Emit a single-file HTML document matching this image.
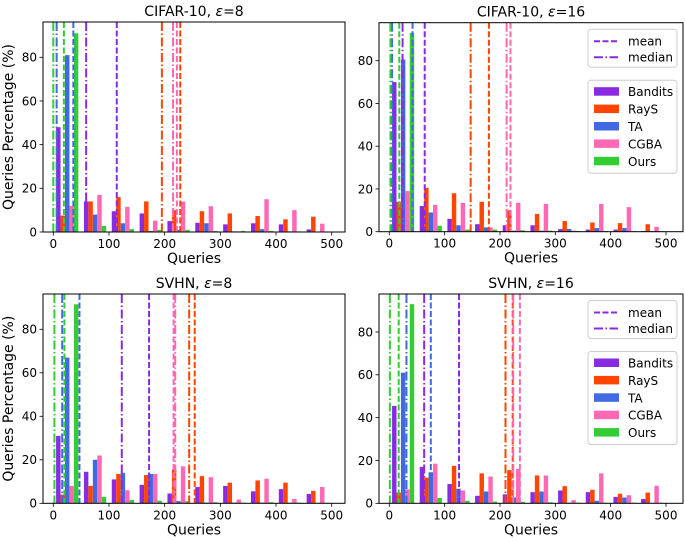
<!DOCTYPE html>
<html><head><meta charset="utf-8">
<style>
html,body{margin:0;padding:0;background:#fff;}
svg{display:block;font-family:"DejaVu Sans","Liberation Sans",sans-serif;}
</style></head>
<body>
<svg id="fig" width="685" height="542" viewBox="0 0 685 542" xmlns="http://www.w3.org/2000/svg"></svg>
<script>
const methods = ["Bandits","RayS","TA","CGBA","Ours"];
const colors = ["#8a2be2","#ff4500","#4169e1","#ff69b4","#32cd32"];
const binStarts = [0,50,100,150,200,250,300,350,400,450];
const xTicks = [0,100,200,300,400,500];
const yTicks = [0,20,40,60,80];

// CIFAR-10 eps=8
const c8Bandits = [48,14,9.5,8.5,5,4.2,3.5,4,3.5,1.2];
const c8RayS = [7.5,14,16,14,10,9.5,8.5,7.3,5.8,7];
const c8TA = [81,8,4,0.5,1,4,0.3,1.3,0.3,0.2];
const c8CGBA = [12,17,11.5,5.2,14,11.8,0.3,15,10,3.8];
const c8Ours = [91,2.8,1.3,1,1,0.5,0.5,0.5,0.3,0.2];
const c8Mean = [114,228,36,222,19];
const c8Median = [59,195,6,215,0];
// CIFAR-10 eps=16
const c16Bandits = [70,12,6,3.5,3,3,1.2,1,1,0.3];
const c16RayS = [14,20.5,18,14,10,8.3,5,4.3,4,3.5];
const c16TA = [80.5,9,3,2,0.5,0.5,1.3,1.7,1.7,0.2];
const c16CGBA = [19,12.5,13.5,2,13.5,13,0.5,13,11.5,2.3];
const c16Ours = [93,2.8,1,1,0.7,0.5,0.3,0.3,0.2,0.2];
const c16Mean = [64,180,42,219,18];
const c16Median = [24,147,5,212,2];
// SVHN eps=8
const s8Bandits = [31,14.5,11,8.5,4.5,7.5,8,5.5,6.5,4.3];
const s8RayS = [4,8,13.5,13,15.5,12.5,9.5,10.5,9.5,5.7];
const s8TA = [67,20,14,13.5,1,0.3,0.3,0.3,0.3,0.2];
const s8CGBA = [8,22,6,13.5,17,12,1.7,11.3,2,7.5];
const s8Ours = [91.5,3,1.5,1.2,1,0.5,0.3,0.5,0.3,0.2];
const s8Mean = [172,254,47,216,20];
const s8Median = [123,244,16,219,2];
// SVHN eps=16
const s16Bandits = [45.5,17,9,3.5,4.2,5.2,6,5.2,3,2];
const s16RayS = [5,12,17.5,14,15.5,13,8,6.3,4.5,5];
const s16TA = [61,14.5,6.8,5.5,2.7,5.5,0.3,1.2,2.7,0.2];
const s16CGBA = [6.5,18.5,6,12.5,16,13,1.5,14,3.8,8.2];
const s16Ours = [93,2.5,1.2,0.8,0.7,0.5,0.3,0.3,0.3,0.3];
const s16Mean = [126,223,75,236,17];
const s16Median = [63,210,31,224,1];

const NS="http://www.w3.org/2000/svg";
const fig=document.getElementById('fig');
function mk(tag,attrs,parent){const e=document.createElementNS(NS,tag);for(const k in attrs)e.setAttribute(k,attrs[k]);(parent||fig).appendChild(e);return e;}

const panels=[
 {key:"c8",title:"CIFAR-10, ",eps:"8",L:43,R:345,T:22,B:232,x0:53.3,x500:331.7,y80:57.3,series:[c8Bandits,c8RayS,c8TA,c8CGBA,c8Ours],mean:c8Mean,median:c8Median,ylabel:true,legend:false},
 {key:"c16",title:"CIFAR-10, ",eps:"16",L:379,R:683,T:22.7,B:231.7,x0:389.3,x500:666,y80:60.7,series:[c16Bandits,c16RayS,c16TA,c16CGBA,c16Ours],mean:c16Mean,median:c16Median,ylabel:false,legend:true},
 {key:"s8",title:"SVHN, ",eps:"8",L:43,R:345,T:294,B:503.3,x0:53.3,x500:331.7,y80:329.3,series:[s8Bandits,s8RayS,s8TA,s8CGBA,s8Ours],mean:s8Mean,median:s8Median,ylabel:true,legend:false},
 {key:"s16",title:"SVHN, ",eps:"16",L:379,R:683,T:294,B:503.3,x0:389.3,x500:666,y80:332,series:[s16Bandits,s16RayS,s16TA,s16CGBA,s16Ours],mean:s16Mean,median:s16Median,ylabel:false,legend:true}
];

panels.forEach(p=>{
  const g=mk('g',{});
  
  
  const xs=v=>p.x0+(p.x500-p.x0)*v/500;
  const ys=v=>p.B-(p.B-p.y80)*v/80;
  const clipId='clip-'+p.key;
  const cp=mk('clipPath',{id:clipId},g);
  mk('rect',{x:p.L,y:p.T,width:p.R-p.L,height:p.B-p.T},cp);
  const plot=mk('g',{'clip-path':'url(#'+clipId+')'},g);
  // bars
  p.series.forEach((vals,m)=>{
    vals.forEach((v,i)=>{
      const xl=xs(binStarts[i]+5+8*m), xr=xs(binStarts[i]+5+8*m+8);
      const r=mk('rect',{x:xl,y:ys(v),width:xr-xl,height:ys(0)-ys(v),fill:colors[m]},plot);
      
      
    });
  });
  // mean / median lines
  p.mean.forEach((v,m)=>{
    const l=mk('line',{x1:xs(v),x2:xs(v),y1:p.T,y2:p.B,stroke:colors[m],'stroke-width':2,'stroke-dasharray':'6,2.5'},plot);
    
    
  });
  p.median.forEach((v,m)=>{
    const l=mk('line',{x1:xs(v),x2:xs(v),y1:p.T,y2:p.B,stroke:colors[m],'stroke-width':2,'stroke-dasharray':'9,2.5,1.5,2.5'},plot);
    
    
  });
  // frame
  const fr=mk('rect',{x:p.L,y:p.T,width:p.R-p.L,height:p.B-p.T,fill:'none',stroke:'#000','stroke-width':1},g);
  
  
  // ticks
  xTicks.forEach(t=>{
    mk('line',{x1:xs(t),x2:xs(t),y1:p.B,y2:p.B+3.5,stroke:'#000','stroke-width':0.8},g);
    const tx=mk('text',{x:xs(t),y:p.B+16,'text-anchor':'middle','font-size':12,fill:'#000'},g);
    tx.textContent=t;
    
    
  });
  yTicks.forEach(t=>{
    mk('line',{x1:p.L-3.5,x2:p.L,y1:ys(t),y2:ys(t),stroke:'#000','stroke-width':0.8},g);
    const tx=mk('text',{x:p.L-6,y:ys(t)+4.3,'text-anchor':'end','font-size':12,fill:'#000'},g);
    tx.textContent=t;
    
    
  });
  // title
  const ti=mk('text',{x:(p.L+p.R)/2,y:p.T-6,'text-anchor':'middle','font-size':14,fill:'#000'},g);
  
  
  ti.appendChild(document.createTextNode(p.title));
  const ep=mk('tspan',{'font-style':'italic'},ti);ep.textContent='ε';
  ti.appendChild(document.createTextNode('='+p.eps));
  // x label
  const xl=mk('text',{x:(p.L+p.R)/2,y:p.B+31,'text-anchor':'middle','font-size':14,fill:'#000'},g);
  xl.textContent='Queries';
  
  
  if(p.ylabel){
    const cy=(p.T+p.B)/2;
    const yl=mk('text',{x:13,y:cy,'text-anchor':'middle','font-size':14,fill:'#000',transform:'rotate(-90 13 '+cy+')'},g);
    yl.textContent='Queries Percentage (%)';
    
    
  }
  if(p.legend){
    const lx=p.R-95, ly=p.T+6.5;
    const lg1=mk('g',{},g);
    
    
    mk('rect',{x:lx,y:ly,width:89,height:38,rx:3,fill:'#fff','fill-opacity':0.85,stroke:'#ccc','stroke-width':1},lg1);
    mk('line',{x1:lx+6,x2:lx+30,y1:ly+12,y2:ly+12,stroke:colors[0],'stroke-width':2,'stroke-dasharray':'6,2.5'},lg1);
    let t=mk('text',{x:lx+40,y:ly+16.5,'font-size':12,fill:'#000'},lg1);t.textContent='mean';
    mk('line',{x1:lx+6,x2:lx+30,y1:ly+28,y2:ly+28,stroke:colors[0],'stroke-width':2,'stroke-dasharray':'9,2.5,1.5,2.5'},lg1);
    t=mk('text',{x:lx+40,y:ly+32.5,'font-size':12,fill:'#000'},lg1);t.textContent='median';
    const ly2=p.T+57.5;
    const lg2=mk('g',{},g);
    
    
    mk('rect',{x:lx,y:ly2,width:89,height:93,rx:3,fill:'#fff','fill-opacity':0.85,stroke:'#ccc','stroke-width':1},lg2);
    methods.forEach((mn,m)=>{
      const yy=ly2+7+m*17.4;
      mk('rect',{x:lx+6,y:yy,width:25,height:8.5,fill:colors[m]},lg2);
      const tt=mk('text',{x:lx+40,y:yy+9,'font-size':12,fill:'#000'},lg2);
      tt.textContent=mn;
      
      
    });
  }
});
</script>
</body></html>
